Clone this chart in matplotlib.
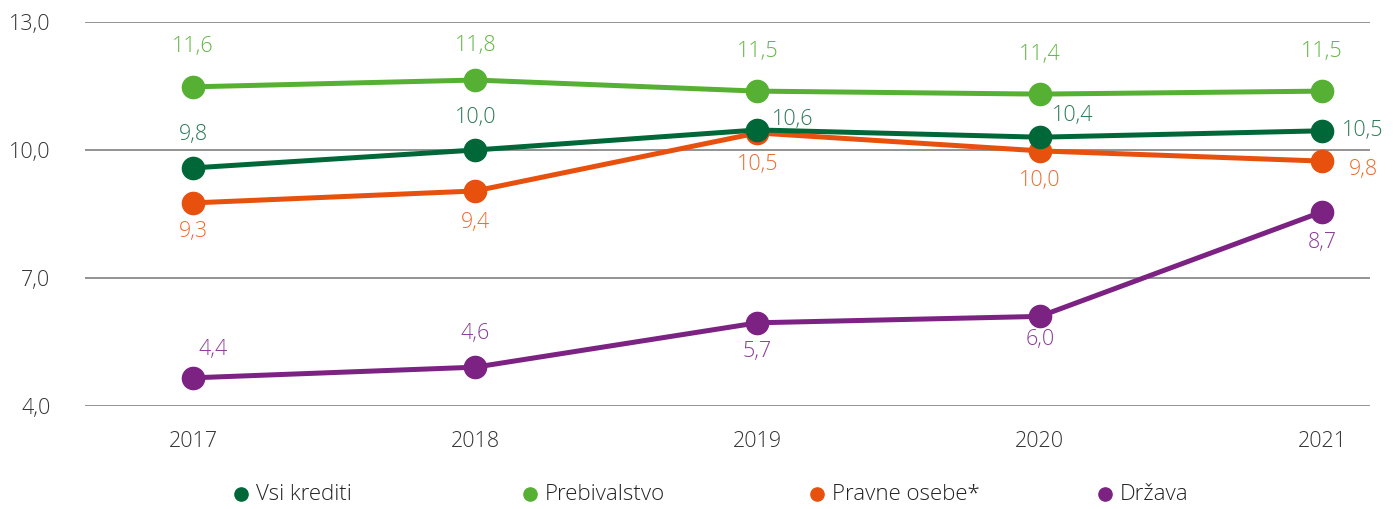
import matplotlib
matplotlib.use("Agg")
import matplotlib.pyplot as plt
from matplotlib.lines import Line2D

plt.rcParams['font.family'] = ['Open Sans', 'DejaVu Sans']

years = ["2017", "2018", "2019", "2020", "2021"]
series_names = ["Vsi krediti", "Prebivalstvo", "Pravne osebe*", "Država"]

vsi = [9.58, 10.0, 10.47, 10.30, 10.45]
prebivalstvo = [11.48, 11.64, 11.38, 11.31, 11.38]
pravne = [8.76, 9.04, 10.40, 9.98, 9.74]
drzava = [4.66, 4.91, 5.95, 6.10, 8.55]

vsi_labels = ["9,8", "10,0", "10,6", "10,4", "10,5"]
preb_labels = ["11,6", "11,8", "11,5", "11,4", "11,5"]
pravne_labels = ["9,3", "9,4", "10,5", "10,0", "9,8"]
drzava_labels = ["4,4", "4,6", "5,7", "6,0", "8,7"]

yticks = [4.0, 7.0, 10.0, 13.0]
ytick_labels = ["4,0", "7,0", "10,0", "13,0"]

line_colors = ["#006838", "#56B033", "#E8500E", "#7B2283"]
label_colors = ["#2B7A56", "#62B843", "#EE6A2E", "#8C3C98"]

# label offsets in pixels (dx, dy) per series/point
offsets = [
    [(0, 33), (0, 33), (35, 10), (33, 22), (41, 0)],
    [(0, 40), (0, 35), (0, 40), (0, 40), (0, 40)],
    [(0, -29), (0, -32), (0, -32), (0, -30), (41, -8)],
    [(20, 28), (0, 34), (0, -29), (0, -23), (0, -31)],
]

fig = plt.figure(figsize=(13.97, 5.09), dpi=100)
ax = fig.add_axes([85/1397, 1-406/509, (1370-85)/1397, (406-22)/509])

xs = list(range(len(years)))
all_vals = [vsi, prebivalstvo, pravne, drzava]
all_labels = [vsi_labels, preb_labels, pravne_labels, drzava_labels]

for yt in yticks:
    ax.axhline(yt, color="#8a8a8a", lw=1.3, zorder=1)

zorders = {1: 3.0, 2: 3.1, 0: 3.5, 3: 3.3}
for i in [1, 2, 0, 3]:
    ax.plot(xs, all_vals[i], color=line_colors[i], lw=3.6, marker='o',
            markersize=16, zorder=zorders[i], solid_capstyle='round')

for i in range(4):
    for j, (v, lab) in enumerate(zip(all_vals[i], all_labels[i])):
        dx, dy = offsets[i][j]
        ax.annotate(lab, (xs[j], v), xytext=(dx, dy), textcoords='offset pixels',
                    ha='center', va='center', color=label_colors[i],
                    fontsize=15.5, fontweight='light', zorder=5)

ax.set_xlim(-108/282.25, 4 + 48/282.25)
ax.set_ylim(4.0, 13.0)
ax.set_yticks(yticks)
ax.set_yticklabels(ytick_labels)
ax.set_xticks(xs)
ax.set_xticklabels(years)
ax.tick_params(axis='both', length=0, labelsize=15.5, colors="#333333")
ax.tick_params(axis='y', pad=25)
ax.tick_params(axis='x', pad=18)
for lab in ax.get_xticklabels() + ax.get_yticklabels():
    lab.set_fontweight('light')
for s in ax.spines.values():
    s.set_visible(False)
ax.patch.set_alpha(0)

legend_x = [241, 530, 817, 1105]
ly = 1 - 494/509
for i, name in enumerate(series_names):
    fig.add_artist(Line2D([legend_x[i]/1397], [ly], marker='o', markersize=9.5,
                          color=line_colors[i], linestyle='none',
                          transform=fig.transFigure))
    fig.text((legend_x[i] + 15)/1397, ly, name, ha='left', va='center',
             fontsize=16, fontweight='light', color="#222222")

fig.savefig("out.png", dpi=100)
